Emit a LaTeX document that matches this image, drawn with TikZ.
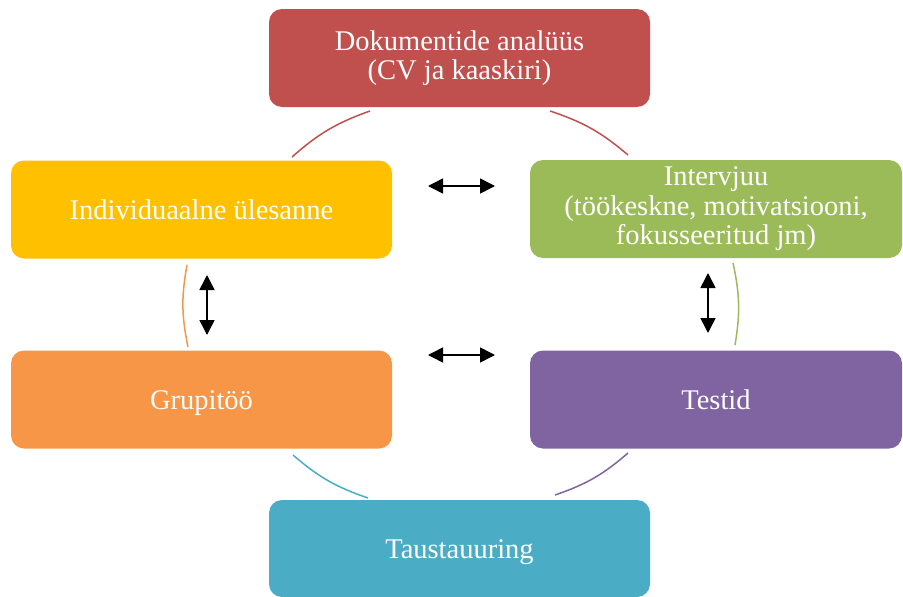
\documentclass[tikz,border=0pt]{standalone}
\usepackage{fontspec}
\setmainfont{Liberation Serif}
\usetikzlibrary{arrows.meta}
\definecolor{cRed}{HTML}{C0504D}
\definecolor{cYellow}{HTML}{FFC000}
\definecolor{cGreen}{HTML}{9BBB59}
\definecolor{cOrange}{HTML}{F79646}
\definecolor{cPurple}{HTML}{8064A2}
\definecolor{cTeal}{HTML}{4BACC6}
\begin{document}
\begin{tikzpicture}[x=1pt,y=-1pt,
  box/.style={rounded corners=13pt, draw=none, text=white, align=center,
    font=\fontsize{28.5}{29.5}\selectfont, inner sep=0pt, minimum height=98pt},
  oneline/.style={text height=19.5pt, text depth=0pt},
  arcline/.style={line width=1.5pt, bend left=11},
  dbl/.style={line width=1.6pt, {Triangle[length=15pt,width=15pt]}-{Triangle[length=15pt,width=15pt]}}]
\useasboundingbox (0,0) rectangle (903,597);
% boxes
\node[box, fill=cRed, minimum width=381pt] (doc) at (459.5,58) {Dokumentide analüüs\\(CV ja kaaskiri)};
\node[box, oneline, fill=cYellow, minimum width=381pt] (ind) at (201.5,209.5) {Individuaalne ülesanne};
\node[box, fill=cGreen, minimum width=372pt] (int) at (716,209) {Intervjuu\\(töökeskne, motivatsiooni,\\fokusseeritud jm)};
\node[box, oneline, fill=cOrange, minimum width=381pt] (grp) at (201.5,399.5) {Grupitöö};
\node[box, oneline, fill=cPurple, minimum width=372pt] (tst) at (716,399.5) {Testid};
\node[box, oneline, fill=cTeal, minimum width=381pt, minimum height=97pt] (tau) at (459.5,548.5) {Taustauuring};
% arc end points
\coordinate (tl1) at (370,111); \coordinate (tl2) at (292,157);
\coordinate (tr1) at (550,111); \coordinate (tr2) at (628,155);
\coordinate (r1) at (733,263);  \coordinate (r2) at (735,345);
\coordinate (br1) at (628,453); \coordinate (br2) at (555,495);
\coordinate (bl1) at (368,498); \coordinate (bl2) at (293,455);
\coordinate (l1) at (188,347);  \coordinate (l2) at (187,265);
\draw[arcline, cRed] (tr1) to (tr2);
\draw[arcline, cGreen] (r1) to (r2);
\draw[arcline, cPurple] (br1) to (br2);
\draw[arcline, cTeal] (bl1) to (bl2);
\draw[arcline, cOrange] (l1) to (l2);
\draw[arcline, cRed] (tl2) to (tl1);
% arrows
\coordinate (ha1) at (428,186); \coordinate (ha2) at (495,186);
\coordinate (hb1) at (428,355); \coordinate (hb2) at (495,355);
\coordinate (va1) at (207,275); \coordinate (va2) at (207,335);
\coordinate (vb1) at (708,273); \coordinate (vb2) at (708,333);
\draw[dbl] (ha1) -- (ha2);
\draw[dbl] (hb1) -- (hb2);
\draw[dbl] (va1) -- (va2);
\draw[dbl] (vb1) -- (vb2);
\end{tikzpicture}
\end{document}
